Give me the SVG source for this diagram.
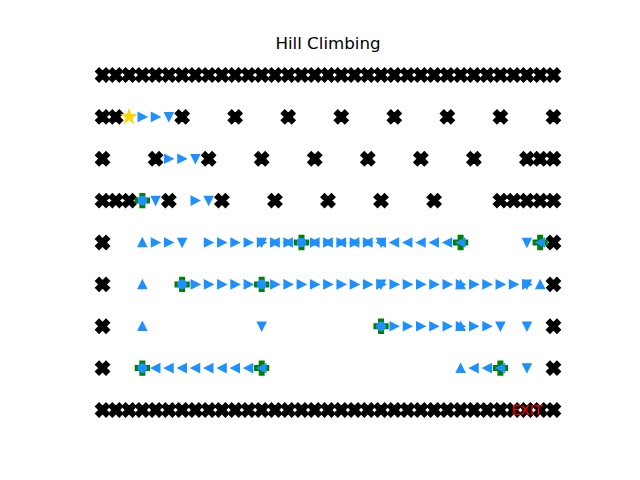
<svg xmlns="http://www.w3.org/2000/svg" width="640" height="480" viewBox="0 0 640 480">
<style>
.w{fill:#000;stroke:#000;stroke-width:1.39;stroke-linejoin:miter}
.b{fill:#1E90FF;stroke:#1E90FF;stroke-width:1.39;stroke-linejoin:miter}
.g{fill:#008000;stroke:#008000;stroke-width:1.39;stroke-linejoin:miter}
.s{fill:#FFD700;stroke:#FFD700;stroke-width:1.39;stroke-linejoin:miter}
.t{font-family:"DejaVu Sans","Liberation Sans",sans-serif}
</style>
<defs>
<path id="X" class="w" d="M-3.47,-6.94L0,-3.47L3.47,-6.94L6.94,-3.47L3.47,0L6.94,3.47L3.47,6.94L0,3.47L-3.47,6.94L-6.94,3.47L-3.47,0L-6.94,-3.47Z"/>
<path id="P" class="g" d="M-2.31,-6.94L2.31,-6.94L2.31,-2.31L6.94,-2.31L6.94,2.31L2.31,2.31L2.31,6.94L-2.31,6.94L-2.31,2.31L-6.94,2.31L-6.94,-2.31L-2.31,-2.31Z"/>
<path id="U" class="b" d="M0,-4.17L-4.17,4.17L4.17,4.17Z"/>
<path id="D" class="b" d="M0,4.17L-4.17,-4.17L4.17,-4.17Z"/>
<path id="R" class="b" d="M4.17,0L-4.17,-4.17L-4.17,4.17Z"/>
<path id="L" class="b" d="M-4.17,0L4.17,-4.17L4.17,4.17Z"/>
<circle id="O" class="b" r="4.17"/>
<path id="S" class="s" d="M0,-6.94L-1.56,-2.15L-6.6,-2.15L-2.52,0.82L-4.08,5.62L0,2.65L4.08,5.62L2.52,0.82L6.6,-2.15L1.56,-2.15Z"/>
</defs>

<text class="t" x="328" y="49" font-size="16.67" text-anchor="middle" fill="#000">Hill Climbing</text>

<g id="walls">
<g id="row0" transform="translate(0,75)">
<use href="#X" x="102.55"/><use href="#X" x="115.81"/><use href="#X" x="129.07"/><use href="#X" x="142.34"/><use href="#X" x="155.60"/><use href="#X" x="168.86"/><use href="#X" x="182.12"/><use href="#X" x="195.38"/><use href="#X" x="208.65"/><use href="#X" x="221.91"/><use href="#X" x="235.17"/><use href="#X" x="248.43"/><use href="#X" x="261.69"/><use href="#X" x="274.96"/><use href="#X" x="288.22"/><use href="#X" x="301.48"/><use href="#X" x="314.74"/><use href="#X" x="328.00"/><use href="#X" x="341.27"/><use href="#X" x="354.53"/><use href="#X" x="367.79"/><use href="#X" x="381.05"/><use href="#X" x="394.31"/><use href="#X" x="407.58"/><use href="#X" x="420.84"/><use href="#X" x="434.10"/><use href="#X" x="447.36"/><use href="#X" x="460.62"/><use href="#X" x="473.89"/><use href="#X" x="487.15"/><use href="#X" x="500.41"/><use href="#X" x="513.67"/><use href="#X" x="526.93"/><use href="#X" x="540.20"/><use href="#X" x="553.46"/>
</g>
<g id="row1w" transform="translate(0,116.9)">
<use href="#X" x="102.55"/><use href="#X" x="115.81"/><use href="#X" x="182.12"/><use href="#X" x="235.17"/><use href="#X" x="288.22"/><use href="#X" x="341.27"/><use href="#X" x="394.31"/><use href="#X" x="447.36"/><use href="#X" x="500.41"/><use href="#X" x="553.46"/>
</g>
<g id="row2w" transform="translate(0,158.75)">
<use href="#X" x="102.55"/><use href="#X" x="155.60"/><use href="#X" x="208.65"/><use href="#X" x="261.69"/><use href="#X" x="314.74"/><use href="#X" x="367.79"/><use href="#X" x="420.84"/><use href="#X" x="473.89"/><use href="#X" x="526.93"/><use href="#X" x="540.20"/><use href="#X" x="553.46"/>
</g>
<g id="row3w" transform="translate(0,200.6)">
<use href="#X" x="102.55"/><use href="#X" x="115.81"/><use href="#X" x="129.07"/><use href="#X" x="168.86"/><use href="#X" x="221.91"/><use href="#X" x="274.96"/><use href="#X" x="328.00"/><use href="#X" x="381.05"/><use href="#X" x="434.10"/><use href="#X" x="500.41"/><use href="#X" x="513.67"/><use href="#X" x="526.93"/><use href="#X" x="540.20"/><use href="#X" x="553.46"/>
</g>
<g id="row4w" transform="translate(0,242.5)"><use href="#X" x="102.55"/><use href="#X" x="553.46"/></g>
<g id="row5w" transform="translate(0,284.4)"><use href="#X" x="102.55"/><use href="#X" x="553.46"/></g>
<g id="row6w" transform="translate(0,326.25)"><use href="#X" x="102.55"/><use href="#X" x="553.46"/></g>
<g id="row7w" transform="translate(0,368.1)"><use href="#X" x="102.55"/><use href="#X" x="553.46"/></g>
<g id="row8" transform="translate(0,410)">
<use href="#X" x="102.55"/><use href="#X" x="115.81"/><use href="#X" x="129.07"/><use href="#X" x="142.34"/><use href="#X" x="155.60"/><use href="#X" x="168.86"/><use href="#X" x="182.12"/><use href="#X" x="195.38"/><use href="#X" x="208.65"/><use href="#X" x="221.91"/><use href="#X" x="235.17"/><use href="#X" x="248.43"/><use href="#X" x="261.69"/><use href="#X" x="274.96"/><use href="#X" x="288.22"/><use href="#X" x="301.48"/><use href="#X" x="314.74"/><use href="#X" x="328.00"/><use href="#X" x="341.27"/><use href="#X" x="354.53"/><use href="#X" x="367.79"/><use href="#X" x="381.05"/><use href="#X" x="394.31"/><use href="#X" x="407.58"/><use href="#X" x="420.84"/><use href="#X" x="434.10"/><use href="#X" x="447.36"/><use href="#X" x="460.62"/><use href="#X" x="473.89"/><use href="#X" x="487.15"/><use href="#X" x="500.41"/><use href="#X" x="513.67"/><use href="#X" x="526.93"/><use href="#X" x="540.20"/><use href="#X" x="553.46"/>
</g>
</g>

<g id="start"><use href="#S" x="129.07" y="116.9"/></g>

<g id="restarts">
<use href="#P" x="142.34" y="200.6"/>
<use href="#P" x="301.48" y="242.5"/>
<use href="#P" x="460.62" y="242.5"/>
<use href="#P" x="540.20" y="242.5"/>
<use href="#P" x="182.12" y="284.4"/>
<use href="#P" x="261.69" y="284.4"/>
<use href="#P" x="381.05" y="326.25"/>
<use href="#P" x="142.34" y="368.1"/>
<use href="#P" x="261.69" y="368.1"/>
<use href="#P" x="500.41" y="368.1"/>
</g>

<g id="path">
<g id="row1p" transform="translate(0,116.9)">
<use href="#R" x="142.34"/><use href="#R" x="155.60"/><use href="#D" x="168.86"/>
</g>
<g id="row2p" transform="translate(0,158.75)">
<use href="#R" x="168.86"/><use href="#R" x="182.12"/><use href="#D" x="195.38"/>
</g>
<g id="row3p" transform="translate(0,200.6)">
<use href="#O" x="142.34"/><use href="#D" x="155.60"/><use href="#R" x="195.38"/><use href="#D" x="208.65"/>
</g>
<g id="row4p" transform="translate(0,242.5)">
<use href="#U" x="142.34"/><use href="#R" x="155.60"/><use href="#R" x="168.86"/><use href="#D" x="182.12"/>
<use href="#R" x="208.65"/><use href="#R" x="221.91"/><use href="#R" x="235.17"/><use href="#R" x="248.43"/>
<use href="#D" x="261.69"/><use href="#R" x="261.69"/>
<use href="#R" x="274.96"/><use href="#L" x="274.96"/><use href="#R" x="288.22"/><use href="#L" x="288.22"/>
<use href="#O" x="301.48"/>
<use href="#R" x="314.74"/><use href="#L" x="314.74"/><use href="#R" x="328.00"/><use href="#L" x="328.00"/><use href="#R" x="341.27"/><use href="#L" x="341.27"/><use href="#R" x="354.53"/><use href="#L" x="354.53"/><use href="#R" x="367.79"/><use href="#L" x="367.79"/>
<use href="#D" x="381.05"/><use href="#L" x="381.05"/>
<use href="#L" x="394.31"/><use href="#L" x="407.58"/><use href="#L" x="420.84"/><use href="#L" x="434.10"/><use href="#L" x="447.36"/><use href="#L" x="460.62"/>
<use href="#D" x="526.93"/><use href="#L" x="540.20"/>
</g>
<g id="row5p" transform="translate(0,284.4)">
<use href="#U" x="142.34"/><use href="#O" x="182.12"/>
<use href="#R" x="195.38"/><use href="#R" x="208.65"/><use href="#R" x="221.91"/><use href="#R" x="235.17"/><use href="#R" x="248.43"/>
<use href="#O" x="261.69"/>
<use href="#R" x="274.96"/><use href="#R" x="288.22"/><use href="#R" x="301.48"/><use href="#R" x="314.74"/><use href="#R" x="328.00"/><use href="#R" x="341.27"/><use href="#R" x="354.53"/><use href="#R" x="367.79"/>
<use href="#D" x="381.05"/><use href="#R" x="381.05"/>
<use href="#R" x="394.31"/><use href="#R" x="407.58"/><use href="#R" x="420.84"/><use href="#R" x="434.10"/><use href="#R" x="447.36"/>
<use href="#U" x="460.62"/><use href="#R" x="460.62"/>
<use href="#R" x="473.89"/><use href="#R" x="487.15"/><use href="#R" x="500.41"/><use href="#R" x="513.67"/>
<use href="#D" x="526.93"/><use href="#R" x="526.93"/>
<use href="#U" x="540.20"/>
</g>
<g id="row6p" transform="translate(0,326.25)">
<use href="#U" x="142.34"/><use href="#D" x="261.69"/><use href="#O" x="381.05"/>
<use href="#R" x="394.31"/><use href="#R" x="407.58"/><use href="#R" x="420.84"/><use href="#R" x="434.10"/><use href="#R" x="447.36"/>
<use href="#U" x="460.62"/><use href="#R" x="460.62"/>
<use href="#R" x="473.89"/><use href="#R" x="487.15"/><use href="#D" x="500.41"/><use href="#D" x="526.93"/>
</g>
<g id="row7p" transform="translate(0,368.1)">
<use href="#O" x="142.34"/>
<use href="#L" x="155.60"/><use href="#L" x="168.86"/><use href="#L" x="182.12"/><use href="#L" x="195.38"/><use href="#L" x="208.65"/><use href="#L" x="221.91"/><use href="#L" x="235.17"/><use href="#L" x="248.43"/><use href="#L" x="261.69"/>
<use href="#U" x="460.62"/><use href="#L" x="473.89"/><use href="#L" x="487.15"/><use href="#L" x="500.41"/><use href="#D" x="526.93"/>
</g>
</g>

<text class="t" x="527" y="415" font-size="13.89" text-anchor="middle" fill="#FF0000">EXIT</text>
</svg>
